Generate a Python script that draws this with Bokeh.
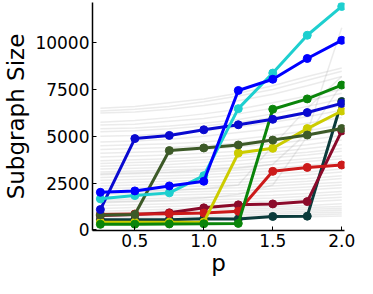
from bokeh.plotting import figure
from bokeh.models import Range1d, FixedTicker, PrintfTickFormatter, ColumnDataSource
from bokeh.embed import file_html
from bokeh.resources import INLINE

p_vals = [0.25, 0.5, 0.75, 1.0, 1.25, 1.5, 1.75, 2.0]

# background (gray) runs
gray_runs = [
    [6500, 6600, 6800, 7000, 7300, 7700, 8200, 8650],
    [6350, 6450, 6600, 6850, 7150, 7500, 8000, 8480],
    [6250, 6300, 6450, 6650, 6900, 7250, 7700, 8200],
    [5750, 5850, 6000, 6200, 6450, 6800, 7150, 7500],
    [5600, 5650, 5800, 5950, 6200, 6500, 6900, 7300],
    [5400, 5450, 5550, 5700, 5900, 6200, 6600, 7000],
    [5250, 5300, 5400, 5550, 5750, 6000, 6300, 6650],
    [5000, 5050, 5150, 5300, 5500, 5750, 6050, 6400],
    [4700, 4750, 4850, 5000, 5200, 5400, 5700, 6000],
    [4500, 4550, 4600, 4700, 4850, 5050, 5300, 5600],
    [4300, 4350, 4400, 4500, 4650, 4850, 5050, 5300],
    [4100, 4150, 4200, 4300, 4450, 4600, 4800, 5050],
    [3900, 3950, 4000, 4100, 4200, 4350, 4550, 4800],
    [3700, 3750, 3800, 3900, 4000, 4150, 4350, 4550],
    [3550, 3600, 3650, 3750, 3850, 4000, 4150, 4350],
    [3400, 3450, 3500, 3600, 3700, 3850, 4000, 4200],
    [3250, 3300, 3350, 3400, 3500, 3650, 3800, 3950],
    [3100, 3150, 3200, 3250, 3350, 3500, 3650, 3800],
    [2950, 3000, 3050, 3100, 3200, 3300, 3450, 3600],
    [2800, 2850, 2900, 2950, 3050, 3150, 3300, 3450],
    [2650, 2700, 2750, 2800, 2900, 3000, 3100, 3250],
    [2500, 2550, 2600, 2650, 2700, 2800, 2950, 3100],
    [2350, 2400, 2450, 2500, 2550, 2650, 2750, 2900],
    [2200, 2250, 2300, 2350, 2400, 2500, 2600, 2750],
    [2050, 2100, 2150, 2200, 2250, 2350, 2450, 2550],
    [1900, 1950, 2000, 2050, 2100, 2200, 2300, 2400],
    [1750, 1800, 1850, 1900, 1950, 2050, 2150, 2250],
    [1600, 1650, 1700, 1750, 1800, 1850, 1950, 2050],
    [1450, 1500, 1550, 1600, 1650, 1700, 1800, 1900],
    [1300, 1350, 1400, 1450, 1500, 1550, 1650, 1750],
    [1150, 1200, 1250, 1300, 1350, 1400, 1500, 1600],
    [1000, 1050, 1100, 1150, 1200, 1250, 1300, 1400],
    [900, 950, 1000, 1050, 1100, 1150, 1200, 1250],
    [800, 850, 900, 950, 1000, 1050, 1100, 1150],
    [700, 750, 800, 850, 900, 950, 1000, 1050],
    [600, 650, 700, 750, 800, 850, 900, 950],
    [500, 550, 600, 650, 700, 750, 800, 850],
    [400, 450, 500, 550, 600, 650, 700, 750],
    [3000, 3050, 3100, 3200, 3300, 3500, 5200, 10800],
    [2000, 2050, 2100, 2200, 2400, 4500, 6500, 8200],
    [1500, 1550, 1600, 1700, 1900, 2400, 5000, 7800],
]

# highlighted runs
cyan_vals = [1660, 1835, 1980, 2900, 6480, 8380, 10400, 11940]
blue_vals = [2010, 2085, 2350, 2600, 7450, 8050, 9160, 10130]
mblue_vals = [1090, 4880, 5050, 5350, 5620, 5910, 6270, 6760]
green_vals = [300, 310, 320, 330, 350, 6450, 7000, 7740]
olive_vals = [800, 825, 4240, 4380, 4540, 4800, 5070, 5415]
yellow_vals = [415, 415, 415, 420, 4105, 4360, 5415, 6355]
red_vals = [830, 850, 870, 900, 1000, 3130, 3340, 3470]
dred_vals = [770, 825, 915, 1180, 1340, 1390, 1515, 5290]
slate_vals = [540, 545, 550, 595, 590, 720, 735, 6860]

series = [
    (slate_vals, "#0b3b3b"),
    (dred_vals, "#8b0a2a"),
    (red_vals, "#cc1a1a"),
    (yellow_vals, "#cccc00"),
    (green_vals, "#0a850a"),
    (olive_vals, "#3d5a28"),
    (mblue_vals, "#0a0ad0"),
    (cyan_vals, "#1ecfcf"),
    (blue_vals, "#0000ff"),
]

x_ticks = [0.5, 1.0, 1.5, 2.0]
y_ticks = [0, 2500, 5000, 7500, 10000]

p = figure(width=357, height=278, output_backend="svg", toolbar_location=None,
           x_range=Range1d(0.193, 2.02), y_range=Range1d(-30, 12150),
           min_border_top=2, min_border_right=13, min_border_left=4, min_border_bottom=4)

gsrc = ColumnDataSource(dict(xs=[p_vals for _ in gray_runs], ys=gray_runs))
p.multi_line(xs="xs", ys="ys", source=gsrc, line_color="#808080", line_alpha=0.16, line_width=1.5)

for vals, col in series:
    p.line(p_vals, vals, line_color=col, line_width=3)
    p.scatter(p_vals, vals, size=8, fill_color=col, line_color=col)

p.xgrid.visible = False
p.ygrid.visible = False
p.outline_line_color = None
p.background_fill_color = "white"
p.border_fill_color = "white"

for ax in (p.xaxis[0], p.yaxis[0]):
    ax.axis_line_color = "black"
    ax.axis_line_width = 1.5
    ax.major_tick_in = 4
    ax.major_tick_out = 0
    ax.major_tick_line_color = "black"
    ax.minor_tick_line_color = None
    ax.major_label_text_font = "DejaVu Sans"
    ax.major_label_text_font_size = "17px"
    ax.major_label_text_color = "black"
    ax.axis_label_text_font = "DejaVu Sans"
    ax.axis_label_text_font_size = "23px"
    ax.axis_label_text_font_style = "normal"
    ax.axis_label_text_color = "black"

p.xaxis[0].ticker = FixedTicker(ticks=x_ticks)
p.xaxis[0].formatter = PrintfTickFormatter(format="%.1f")
p.yaxis[0].ticker = FixedTicker(ticks=y_ticks)
p.yaxis[0].formatter = PrintfTickFormatter(format="%d")
p.xaxis[0].axis_label = "p"
p.yaxis[0].axis_label = "Subgraph Size"
p.xaxis[0].major_label_standoff = 3
p.yaxis[0].major_label_standoff = 3
p.xaxis[0].axis_label_standoff = 0
p.yaxis[0].axis_label_standoff = 3

open("out.html", "w").write(file_html(p, INLINE))
